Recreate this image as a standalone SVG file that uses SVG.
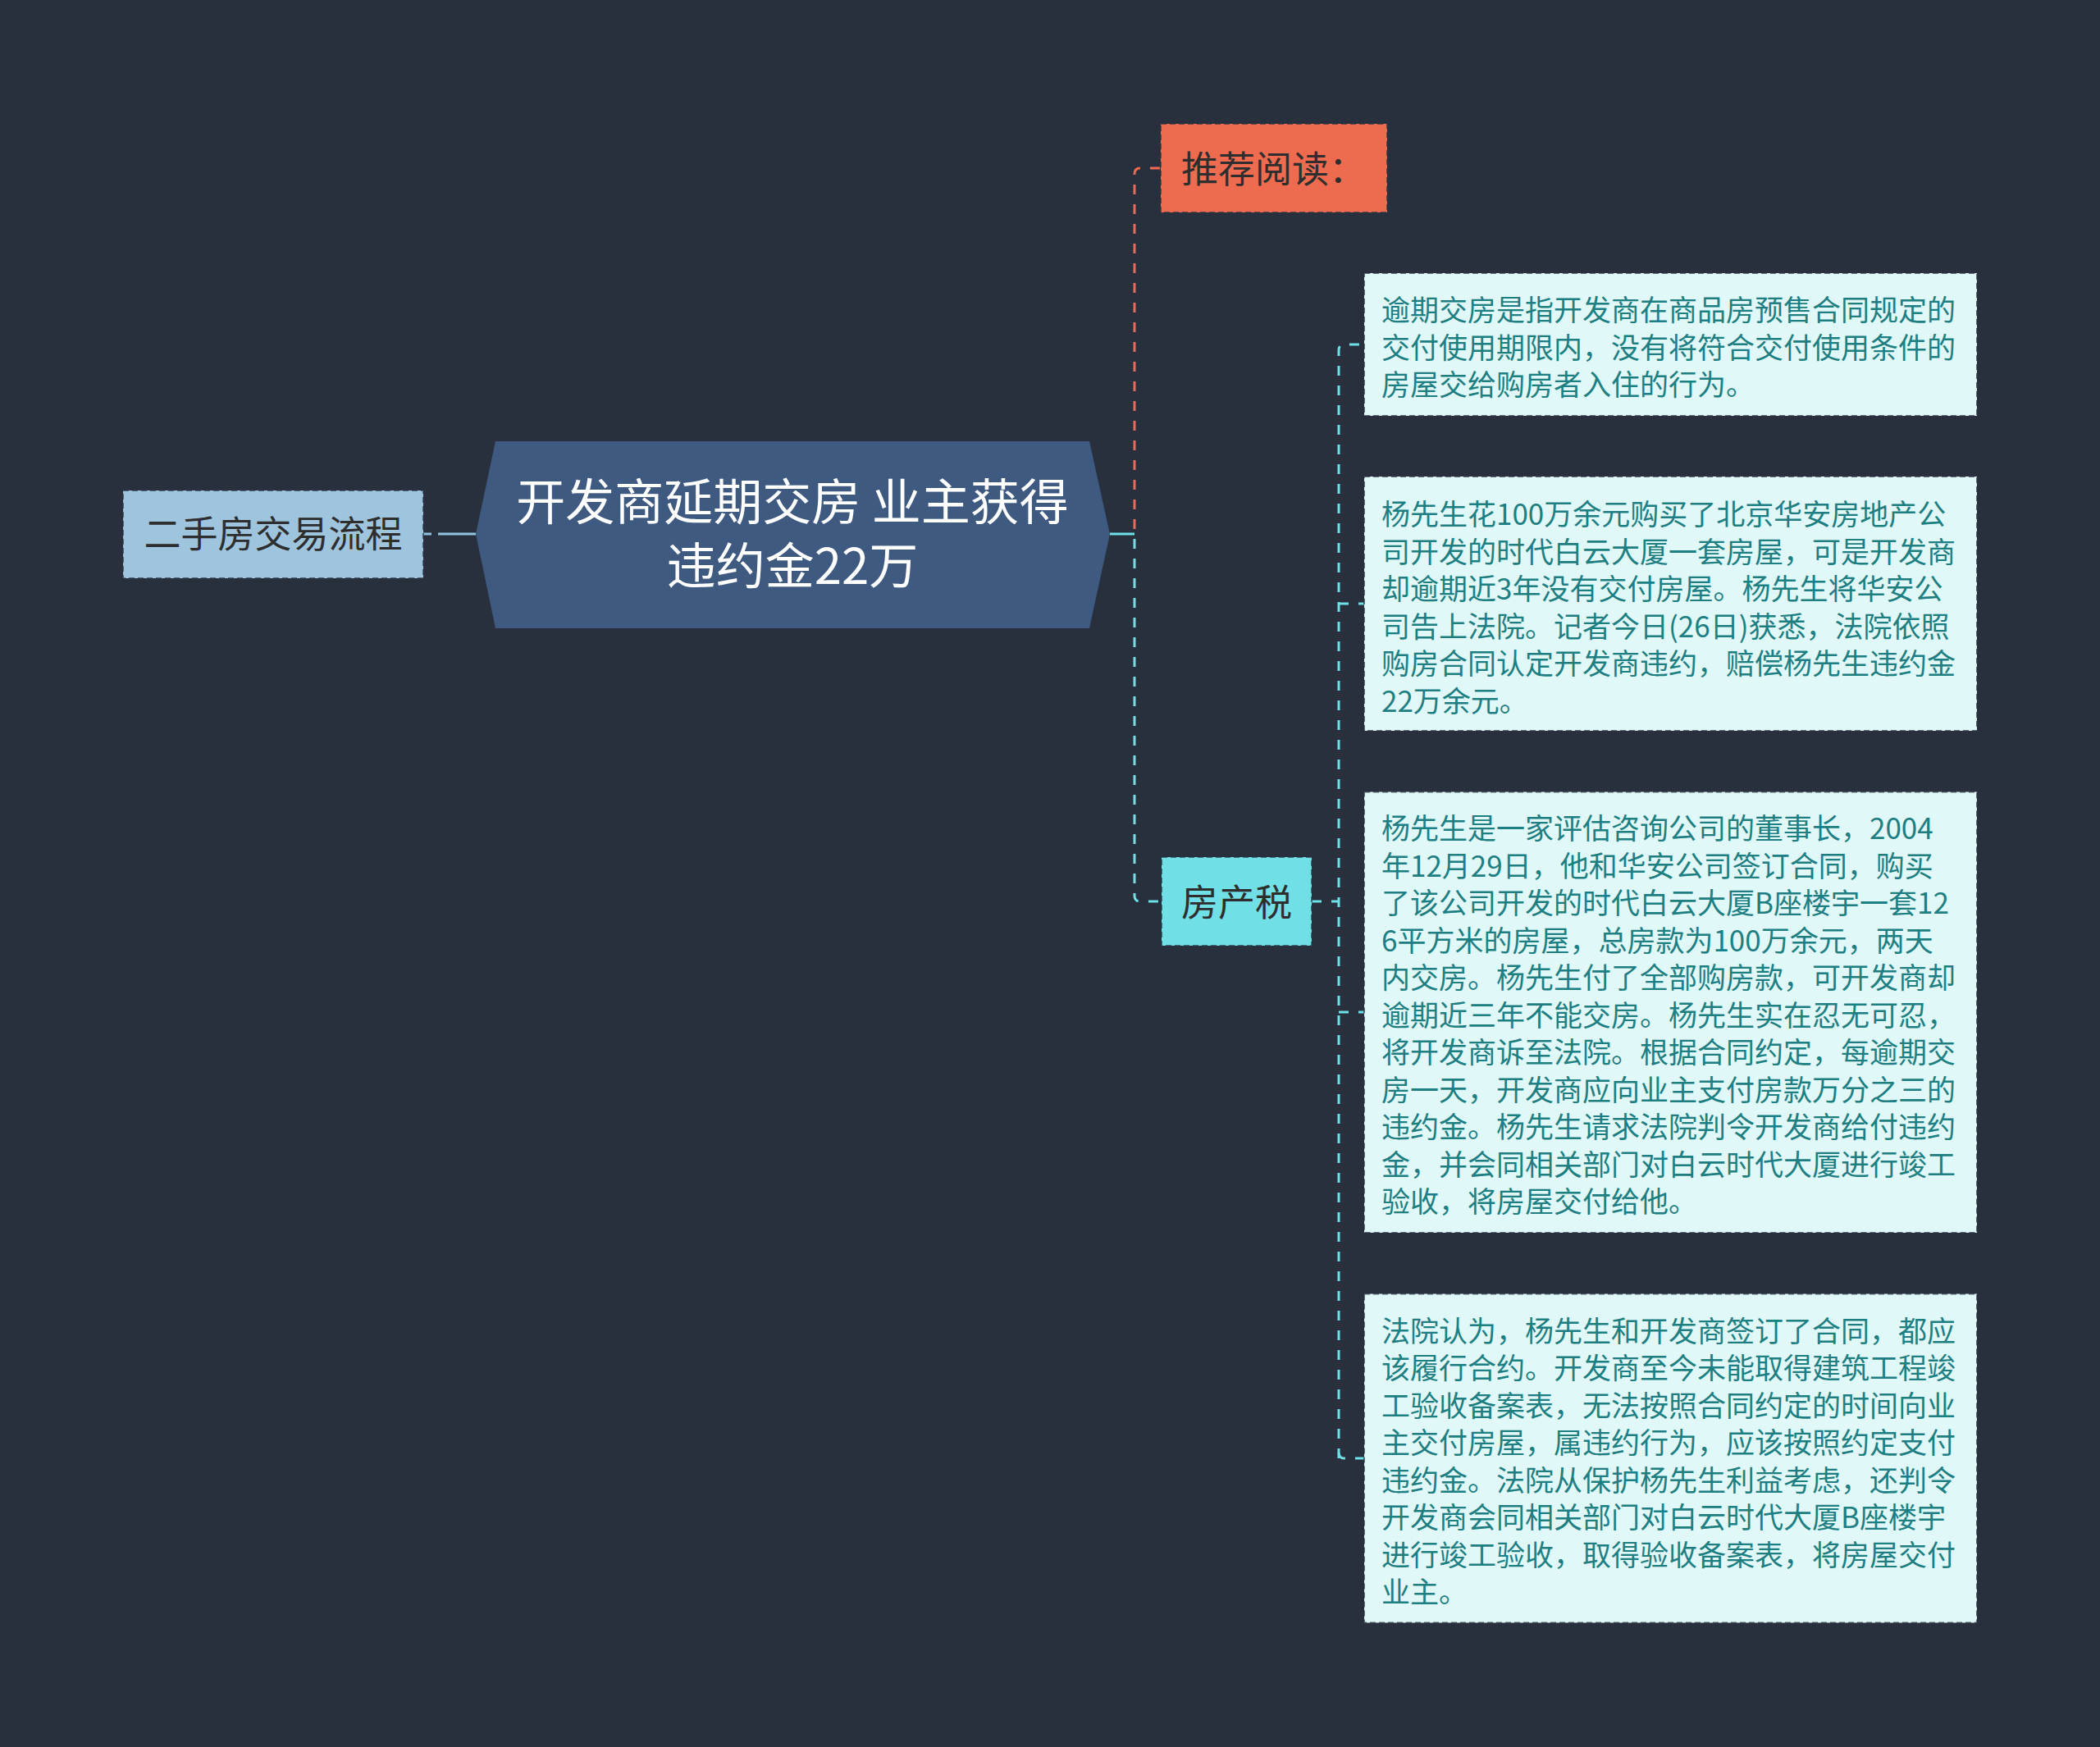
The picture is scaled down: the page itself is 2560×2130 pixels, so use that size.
<svg xmlns="http://www.w3.org/2000/svg" width="2560" height="2130" viewBox="0 0 2560 2130">
<style>
.cn{font-family:"Noto Sans CJK SC","Noto Sans",sans-serif}
.node-b{stroke:#283241;stroke-opacity:0.65;stroke-width:2;stroke-dasharray:7 4}
.lbl{font-size:45px;fill:#2e2e2e}
.box{fill:#e0f8f8;stroke:#283241;stroke-opacity:0.7;stroke-width:2;stroke-dasharray:7 4}
.bt{font-size:35px;fill:#1e7f82}
.c{fill:none;stroke-width:3;stroke-dasharray:12 12}
</style>
<rect x="0" y="0" width="2560" height="2130" fill="#282f3d"/>
<g id="connectors">
  <path d="M580,651 H534" stroke="#8fc3dd" stroke-width="3" fill="none"/>
  <path d="M526,651 H516" stroke="#8fc3dd" stroke-width="3" fill="none"/>
  <path d="M1353,651 H1383" stroke="#6ee0e6" stroke-width="3" fill="none"/>
  <path class="c" stroke="#ef6b4f" d="M1383,645 V212 Q1383,205 1390,205 H1415"/>
  <path class="c" stroke="#6ee0e6" d="M1383,657 V1092 Q1383,1099 1390,1099 H1416"/>
  <path class="c" stroke="#6ee0e6" d="M1599,1099 H1632"/>
  <path class="c" stroke="#6ee0e6" d="M1632,1778 V427 Q1632,420 1639,420 H1663"/>
  <path class="c" stroke="#6ee0e6" d="M1632,736 H1663"/>
  <path class="c" stroke="#6ee0e6" d="M1632,1234 H1663"/>
  <path class="c" stroke="#6ee0e6" d="M1632,1771 Q1632,1778 1639,1778 H1663"/>
</g>
<g id="root">
  <polygon points="604,538 1328,538 1353,651 1328,766 604,766 580,651" fill="#3e5a80"/>
  <text class="cn" font-size="60" fill="#ffffff" text-anchor="middle"><tspan x="966" y="634">开发商延期交房 业主获得</tspan><tspan x="966" y="712">违约金22万</tspan></text>
</g>
<g id="left-node">
  <rect class="node-b" x="150" y="598" width="366" height="107" fill="#9ec4de"/>
  <text class="cn lbl" x="333" y="668" text-anchor="middle">二手房交易流程</text>
</g>
<g id="recommend">
  <rect class="node-b" x="1415" y="151" width="276" height="108" fill="#ef6b4f"/>
  <text class="cn lbl" x="1440" y="223">推荐阅读：</text>
</g>
<g id="tax">
  <rect class="node-b" x="1416" y="1045" width="183" height="108" fill="#70e0e6"/>
  <text class="cn lbl" x="1440" y="1117">房产税</text>
</g>
<g id="box1">
  <rect class="box" x="1663" y="333" width="747" height="174"/>
  <text class="cn bt"><tspan x="1684" y="391">逾期交房是指开发商在商品房预售合同规定的</tspan><tspan x="1684" dy="45.5">交付使用期限内，没有将符合交付使用条件的</tspan><tspan x="1684" dy="45.5">房屋交给购房者入住的行为。</tspan></text>
</g>
<g id="box2">
  <rect class="box" x="1663" y="581" width="747" height="310"/>
  <text class="cn bt"><tspan x="1684" y="640">杨先生花100万余元购买了北京华安房地产公</tspan><tspan x="1684" dy="45.5">司开发的时代白云大厦一套房屋，可是开发商</tspan><tspan x="1684" dy="45.5">却逾期近3年没有交付房屋。杨先生将华安公</tspan><tspan x="1684" dy="45.5">司告上法院。记者今日(26日)获悉，法院依照</tspan><tspan x="1684" dy="45.5">购房合同认定开发商违约，赔偿杨先生违约金</tspan><tspan x="1684" dy="45.5">22万余元。</tspan></text>
</g>
<g id="box3">
  <rect class="box" x="1663" y="965.5" width="747" height="537.5"/>
  <text class="cn bt"><tspan x="1684" y="1023">杨先生是一家评估咨询公司的董事长，2004</tspan><tspan x="1684" dy="45.5">年12月29日，他和华安公司签订合同，购买</tspan><tspan x="1684" dy="45.5">了该公司开发的时代白云大厦B座楼宇一套12</tspan><tspan x="1684" dy="45.5">6平方米的房屋，总房款为100万余元，两天</tspan><tspan x="1684" dy="45.5">内交房。杨先生付了全部购房款，可开发商却</tspan><tspan x="1684" dy="45.5">逾期近三年不能交房。杨先生实在忍无可忍，</tspan><tspan x="1684" dy="45.5">将开发商诉至法院。根据合同约定，每逾期交</tspan><tspan x="1684" dy="45.5">房一天，开发商应向业主支付房款万分之三的</tspan><tspan x="1684" dy="45.5">违约金。杨先生请求法院判令开发商给付违约</tspan><tspan x="1684" dy="45.5">金，并会同相关部门对白云时代大厦进行竣工</tspan><tspan x="1684" dy="45.5">验收，将房屋交付给他。</tspan></text>
</g>
<g id="box4">
  <rect class="box" x="1663" y="1577.5" width="747" height="401"/>
  <text class="cn bt"><tspan x="1684" y="1635.5">法院认为，杨先生和开发商签订了合同，都应</tspan><tspan x="1684" dy="45.5">该履行合约。开发商至今未能取得建筑工程竣</tspan><tspan x="1684" dy="45.5">工验收备案表，无法按照合同约定的时间向业</tspan><tspan x="1684" dy="45.5">主交付房屋，属违约行为，应该按照约定支付</tspan><tspan x="1684" dy="45.5">违约金。法院从保护杨先生利益考虑，还判令</tspan><tspan x="1684" dy="45.5">开发商会同相关部门对白云时代大厦B座楼宇</tspan><tspan x="1684" dy="45.5">进行竣工验收，取得验收备案表，将房屋交付</tspan><tspan x="1684" dy="45.5">业主。</tspan></text>
</g>
</svg>
